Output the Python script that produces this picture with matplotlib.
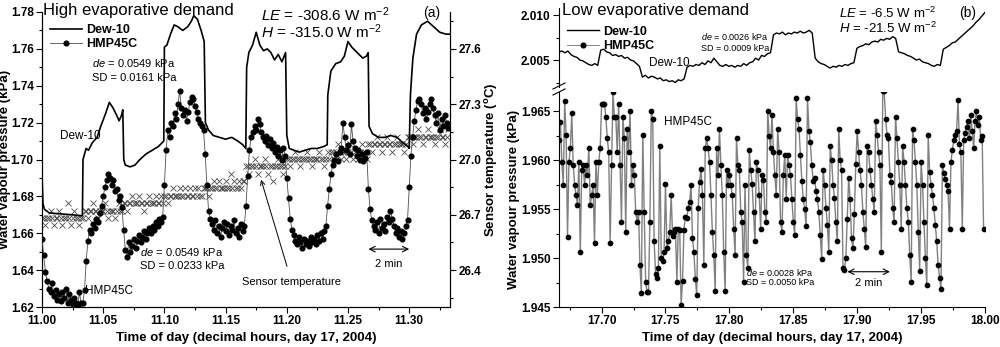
import numpy as np
import matplotlib.pyplot as plt
from matplotlib.ticker import MultipleLocator, FormatStrFormatter
from matplotlib.lines import Line2D

plt.rcParams['font.family'] = ['Liberation Sans', 'DejaVu Sans']
plt.rcParams['mathtext.fontset'] = 'custom'
plt.rcParams['mathtext.rm'] = 'Liberation Sans'
plt.rcParams['mathtext.it'] = 'Liberation Sans:italic'
plt.rcParams['mathtext.bf'] = 'Liberation Sans:bold'

# ---------------- panel (a): high evaporative demand ----------------
dew_a_t = [11.000, 11.0008, 11.002, 11.006, 11.015, 11.025, 11.033, 11.0335, 11.036, 11.038,
           11.041, 11.045, 11.048, 11.052, 11.055, 11.058, 11.061, 11.063, 11.065, 11.066,
           11.0668, 11.068, 11.072, 11.076, 11.080, 11.085, 11.090, 11.095, 11.0995, 11.1000,
           11.102, 11.105, 11.108, 11.111, 11.115, 11.119, 11.122, 11.124, 11.127, 11.130,
           11.1325, 11.1335, 11.136, 11.140, 11.145, 11.150, 11.155, 11.160, 11.164, 11.1665,
           11.1672, 11.169, 11.172, 11.175, 11.178, 11.181, 11.184, 11.187, 11.190, 11.193,
           11.196, 11.199, 11.2000, 11.202, 11.206, 11.210, 11.215, 11.220, 11.225, 11.230,
           11.233, 11.2335, 11.236, 11.240, 11.244, 11.247, 11.250, 11.253, 11.256, 11.259,
           11.262, 11.265, 11.2665, 11.2672, 11.270, 11.275, 11.280, 11.285, 11.290, 11.295,
           11.299, 11.3000, 11.301, 11.303, 11.306, 11.310, 11.315, 11.320, 11.325, 11.330,
           11.333]
dew_a = [1.692, 1.676, 1.673, 1.671, 1.6705, 1.670, 1.6695, 1.700, 1.706, 1.705,
         1.709, 1.712, 1.718, 1.725, 1.731, 1.728, 1.724, 1.721, 1.724, 1.727,
         1.700, 1.697, 1.696, 1.697, 1.700, 1.703, 1.705, 1.707, 1.710, 1.761,
         1.762, 1.768, 1.773, 1.772, 1.770, 1.772, 1.775, 1.778, 1.776, 1.770,
         1.764, 1.720, 1.716, 1.713, 1.712, 1.711, 1.712, 1.710, 1.708, 1.706,
         1.750, 1.758, 1.762, 1.769, 1.762, 1.759, 1.760, 1.758, 1.754, 1.757,
         1.753, 1.758, 1.713, 1.706, 1.705, 1.704, 1.705, 1.706, 1.706, 1.707,
         1.708, 1.735, 1.748, 1.752, 1.753, 1.756, 1.764, 1.761, 1.759, 1.757,
         1.755, 1.756, 1.758, 1.718, 1.714, 1.712, 1.712, 1.713, 1.712, 1.709,
         1.707, 1.706, 1.735, 1.755, 1.768, 1.773, 1.775, 1.772, 1.769, 1.768,
         1.768]

# HMP45C, one reading every 5 s (kPa)
hmp_a = [
    1.657, 1.648, 1.639, 1.634, 1.630, 1.628, 1.633, 1.626, 1.629, 1.624, 1.627, 1.623,
    1.628, 1.625, 1.630, 1.622, 1.627, 1.624, 1.621, 1.625, 1.622, 1.620, 1.628, 1.622,
    1.622, 1.629, 1.645, 1.656, 1.662, 1.660, 1.665, 1.663, 1.668, 1.666, 1.671, 1.675,
    1.680, 1.685, 1.689, 1.692, 1.690, 1.686, 1.689, 1.683, 1.684, 1.678, 1.680, 1.674,
    1.662, 1.651, 1.647, 1.655, 1.650, 1.653, 1.657, 1.652, 1.656, 1.659, 1.655, 1.658,
    1.661, 1.657, 1.660, 1.663, 1.660, 1.664, 1.662, 1.666, 1.664, 1.668, 1.666, 1.669,
    1.686, 1.705, 1.716, 1.712, 1.720, 1.718, 1.725, 1.722, 1.730, 1.737, 1.728, 1.724,
    1.727, 1.721, 1.726, 1.731, 1.734, 1.733, 1.729, 1.726, 1.722, 1.720, 1.718, 1.716,
    1.703, 1.686, 1.672, 1.668, 1.665, 1.662, 1.667, 1.660, 1.664, 1.658, 1.663, 1.666,
    1.661, 1.665, 1.659, 1.664, 1.662, 1.667, 1.660, 1.663, 1.658, 1.665, 1.661, 1.664,
    1.675, 1.691, 1.705, 1.712, 1.715, 1.718, 1.716, 1.722, 1.719, 1.715, 1.712, 1.710,
    1.713, 1.708, 1.711, 1.706, 1.709, 1.704, 1.707, 1.702, 1.705, 1.700, 1.706, 1.702,
    1.690, 1.679, 1.668, 1.662, 1.659, 1.656, 1.654, 1.658, 1.655, 1.652, 1.657, 1.654,
    1.656, 1.653, 1.658, 1.655, 1.657, 1.654, 1.659, 1.656, 1.660, 1.657, 1.661, 1.664,
    1.675, 1.684, 1.692, 1.697, 1.700, 1.703, 1.699, 1.704, 1.706, 1.720, 1.712, 1.705,
    1.708, 1.703, 1.719, 1.710, 1.706, 1.702, 1.705, 1.700, 1.703, 1.699, 1.701, 1.704,
    1.684, 1.673, 1.667, 1.664, 1.662, 1.666, 1.660, 1.668, 1.663, 1.665, 1.661, 1.669,
    1.666, 1.672, 1.668, 1.664, 1.660, 1.663, 1.658, 1.661, 1.657, 1.660, 1.664, 1.667,
    1.685, 1.702, 1.712, 1.721, 1.727, 1.732, 1.733, 1.730, 1.725, 1.728, 1.722, 1.726,
    1.730, 1.733, 1.728, 1.724, 1.720, 1.725, 1.716, 1.722, 1.718, 1.724, 1.720, 1.717]

# sensor temperature, in steps of the 0.04 degC resolution above 26.643 degC
temp_step = [
    1, 1, 0, 1, 1, 2, 1, 0, 1, 1, 2, 1, 0, 1, 1, 3, 1, 0, 1, 2, 1, 1, 0, 1,
    1, 2, 2, 1, 2, 2, 3, 2, 2, 1, 2, 2, 2, 3, 2, 1, 2, 2, 2, 1, 2, 3, 2, 2,
    3, 3, 2, 3, 3, 4, 3, 3, 3, 4, 3, 3, 2, 3, 3, 4, 3, 3, 3, 4, 3, 3, 4, 3,
    4, 4, 3, 4, 4, 5, 4, 4, 4, 5, 4, 4, 5, 4, 4, 5, 4, 4, 5, 4, 5, 4, 4, 5,
    5, 5, 4, 5, 5, 6, 5, 5, 6, 5, 5, 5, 6, 5, 5, 7, 5, 6, 5, 5, 6, 5, 6, 6,
    8, 8, 7, 8, 8, 9, 8, 7, 8, 8, 8, 9, 8, 7, 8, 8, 6, 8, 8, 9, 8, 8, 7, 8,
    9, 9, 8, 9, 9, 10, 9, 9, 8, 9, 9, 9, 10, 9, 9, 8, 9, 9, 9, 10, 9, 9, 8, 9,
    10, 9, 10, 10, 9, 10, 11, 10, 9, 10, 10, 9, 10, 11, 10, 9, 10, 10, 9, 10, 11, 10, 10, 9,
    11, 11, 10, 11, 11, 12, 11, 11, 10, 11, 11, 12, 11, 11, 10, 11, 11, 12, 11, 11, 11, 10, 11, 12,
    12, 12, 11, 12, 12, 13, 12, 12, 11, 12, 12, 13, 12, 12, 12, 11, 12, 12, 13, 12, 12, 11, 12, 13]

# ---------------- panel (b): low evaporative demand ----------------
dew_b = [
    2.0059, 2.0060, 2.0058, 2.0060, 2.0056, 2.0054, 2.0053, 2.0050, 2.0049, 2.0047, 2.0045, 2.0044,
    2.0046, 2.0044, 2.0061, 2.0062, 2.0059, 2.0058, 2.0055, 2.0056, 2.0054, 2.0055, 2.0052, 2.0053,
    2.0050, 2.0049, 2.0046, 2.0043, 2.0031, 2.0033, 2.0030, 2.0032, 2.0031, 2.0029, 2.0030, 2.0027,
    2.0028, 2.0026, 2.0027, 2.0025, 2.0028, 2.0027, 2.0029, 2.0042, 2.0044, 2.0043, 2.0045, 2.0044,
    2.0047, 2.0045, 2.0049, 2.0047, 2.0052, 2.0048, 2.0044, 2.0043, 2.0045, 2.0043, 2.0044, 2.0042,
    2.0044, 2.0043, 2.0046, 2.0044, 2.0047, 2.0048, 2.0052, 2.0050, 2.0055, 2.0054, 2.0057, 2.0058,
    2.0078, 2.0080, 2.0079, 2.0081, 2.0078, 2.0080, 2.0079, 2.0081, 2.0080, 2.0082, 2.0080, 2.0081,
    2.0083, 2.0080, 2.0052, 2.0048, 2.0046, 2.0045, 2.0043, 2.0041, 2.0043, 2.0042, 2.0044, 2.0043,
    2.0045, 2.0044, 2.0046, 2.0047, 2.0063, 2.0065, 2.0066, 2.0068, 2.0067, 2.0070, 2.0071, 2.0070,
    2.0073, 2.0072, 2.0074, 2.0073, 2.0076, 2.0074, 2.0059, 2.0058, 2.0057, 2.0055, 2.0054, 2.0052,
    2.0050, 2.0051, 2.0048, 2.0047, 2.0046, 2.0044, 2.0043, 2.0045, 2.0044, 2.0062, 2.0064, 2.0066,
    2.0069, 2.0070, 2.0073, 2.0076, 2.0079, 2.0082, 2.0085, 2.0088, 2.0092, 2.0095, 2.0099, 2.0103]

# HMP45C, one reading every 4 s, in 0.0001 kPa above 1.9 kPa
hmp_b_raw = [
    620, 639, 598, 575, 660, 626, 521, 598, 612, 648, 595, 575, 564, 554, 598,
    506, 590, 595, 575, 595, 585, 612, 554, 564, 575, 515, 598, 564, 598, 612,
    657, 657, 657, 644, 622, 608, 515, 595, 669, 644, 644, 608, 657, 595, 537,
    644, 622, 527, 632, 608, 650, 575, 595, 585, 547, 537, 547, 493, 464, 626,
    547, 476, 465, 465, 537, 650, 642, 517, 484, 480, 490, 614, 500, 497, 506,
    576, 510, 517, 527, 564, 522, 527, 530, 476, 530, 529, 452, 477, 529, 542,
    541, 551, 557, 575, 520, 506, 479, 462, 551, 578, 591, 564, 493, 612, 622,
    612, 598, 564, 527, 503, 466, 612, 585, 632, 595, 564, 506, 466, 590, 575,
    585, 575, 564, 530, 503, 622, 595, 590, 547, 537, 476, 575, 503, 490, 610,
    590, 576, 547, 517, 598, 590, 564, 530, 585, 580, 547, 537, 650, 625, 612,
    646, 608, 585, 564, 632, 608, 537, 527, 585, 605, 560, 605, 595, 585, 560,
    537, 523, 663, 642, 632, 605, 579, 560, 550, 533, 663, 630, 618, 595, 579,
    582, 568, 560, 547, 523, 499, 590, 575, 551, 534, 506, 614, 600, 575, 561,
    537, 517, 632, 600, 590, 490, 488, 500, 540, 582, 560, 520, 510, 545, 596,
    630, 608, 590, 575, 547, 530, 511, 614, 608, 590, 575, 560, 547, 640, 626,
    608, 595, 506, 670, 670, 642, 626, 622, 585, 578, 551, 537, 644, 622, 598,
    575, 530, 614, 598, 575, 551, 537, 503, 476, 632, 620, 598, 574, 527, 487,
    598, 575, 537, 500, 472, 626, 588, 575, 564, 551, 534, 517, 493, 480, 468,
    595, 587, 581, 575, 568, 530, 598, 610, 620, 626, 630, 661, 616, 608, 530,
    620, 628, 634, 640, 622, 646, 630, 612, 640, 650, 636, 644, 620, 625, 530]

hmp_a_t = 11.0 + np.arange(len(hmp_a)) * 5 / 3600
temp_a = 26.643 + 0.04 * np.array(temp_step)
start_b = 17 + 40 / 60
dew_b_t = np.linspace(start_b, 18.0, len(dew_b))
hmp_b_t = start_b + np.arange(len(hmp_b_raw)) * 4 / 3600
hmp_b = 1.9 + np.array(hmp_b_raw) / 1e4

W, H = 1000, 347
fig = plt.figure(figsize=(W / 100, H / 100), dpi=100)


def fbox(x0, y0, x1, y1):
    return [x0 / W, 1 - y1 / H, (x1 - x0) / W, (y1 - y0) / H]


def style(ax):
    ax.tick_params(which='both', direction='out', width=0.8, labelsize=8.5, pad=2)
    ax.tick_params(which='major', length=4)
    ax.tick_params(which='minor', length=2.5)
    for lab in ax.get_xticklabels() + ax.get_yticklabels():
        lab.set_fontweight('bold')
    for s in ax.spines.values():
        s.set_linewidth(0.8)
    ax.spines['top'].set_visible(False)


lab_kw = dict(fontsize=9.5, fontweight='bold')

# ---- panel (a)
ax1 = fig.add_axes(fbox(42, 12, 450, 307))
ax1.plot(dew_a_t, dew_a, color='black', lw=1.2, label='Dew-10', zorder=3)
ax1.plot(hmp_a_t, hmp_a, color='0.3', lw=0.6, marker='o', ms=3.4,
         mfc='black', mec='black', label='HMP45C', zorder=4)
ax1.set_xlim(11.0, 11.0 + 1 / 3)
ax1.set_ylim(1.62, 1.78)
ax1.xaxis.set_major_locator(MultipleLocator(0.05))
ax1.xaxis.set_minor_locator(MultipleLocator(0.025))
ax1.xaxis.set_major_formatter(FormatStrFormatter('%.2f'))
ax1.yaxis.set_major_locator(MultipleLocator(0.02))
ax1.yaxis.set_minor_locator(MultipleLocator(0.01))
ax1.yaxis.set_major_formatter(FormatStrFormatter('%.2f'))
ax1.set_xlabel('Time of day (decimal hours, day 17, 2004)', labelpad=3, **lab_kw)
ax1.set_ylabel('Water vapour pressure (kPa)', labelpad=0, **lab_kw)

ax1t = ax1.twinx()
ax1t.plot(hmp_a_t, temp_a, ls='none', marker='x', ms=4, mew=0.6, color='0.3', zorder=2)
ax1t.set_ylim(26.2, 27.8)
ax1t.yaxis.set_major_locator(MultipleLocator(0.3))
ax1t.yaxis.set_minor_locator(MultipleLocator(0.15))
ax1t.yaxis.set_major_formatter(FormatStrFormatter('%.1f'))
ax1t.set_ylabel('Sensor temperature ($^{\\mathbf{o}}$C)', labelpad=1, **lab_kw)
style(ax1)
style(ax1t)
ax1.set_zorder(ax1t.get_zorder() + 1)
ax1.patch.set_visible(False)

ax1.legend(loc='upper left', bbox_to_anchor=(0.0, 0.985), frameon=False,
           prop={'weight': 'bold', 'size': 9}, handlelength=2.6,
           handletextpad=0.3, labelspacing=0.2, borderaxespad=0.2)

fig.text(43 / W, 1 - 11 / H, 'High evaporative demand', fontsize=12, va='center', ha='left')
ax1.text(11.179, 1.7784, '$LE$ = -308.6 W m$^{-2}$', fontsize=11, va='center')
ax1.text(11.179, 1.7692, '$H$ = -315.0 W m$^{-2}$', fontsize=11, va='center')
ax1.text(11.311, 1.7795, '(a)', fontsize=10, va='center')
ax1.text(11.0407, 1.7524, '$de$ = 0.0549 kPa', fontsize=8, va='center')
ax1.text(11.0407, 1.7443, 'SD = 0.0161 kPa', fontsize=8, va='center')
ax1.text(11.0146, 1.7130, 'Dew-10', fontsize=8.5, va='center')
ax1.text(11.0797, 1.6497, '$de$ = 0.0549 kPa', fontsize=8, va='center')
ax1.text(11.0797, 1.6422, 'SD = 0.0233 kPa', fontsize=8, va='center')
ax1.text(11.0350, 1.6286, 'HMP45C', fontsize=8.5, va='center')
ax1.annotate('Sensor temperature', xy=(11.179, 1.689), xytext=(11.204, 1.6335),
             fontsize=8, ha='center', va='center',
             arrowprops=dict(arrowstyle='->', lw=0.7, color='black', shrinkA=6, shrinkB=0))
ax1.annotate('', xy=(11.2667, 1.6514), xytext=(11.3, 1.6514),
             arrowprops=dict(arrowstyle='<->', lw=0.8, color='black', shrinkA=0, shrinkB=0))
ax1.text(11.2833, 1.6432, '2 min', fontsize=8, ha='center', va='center')

# ---- panel (b), broken y axis
axb = fig.add_axes(fbox(559, 92, 985, 307))
axt = fig.add_axes(fbox(559, 8, 985, 87), sharex=axb)
for ax in (axb, axt):
    ax.spines['right'].set_visible(False)
axt.spines['bottom'].set_visible(False)

axt.plot(dew_b_t, dew_b, color='black', lw=1.0, label='Dew-10')
axt.plot([], [], color='0.45', lw=0.6, marker='o', ms=3.4, mfc='black', mec='black', label='HMP45C')
axb.plot(hmp_b_t, hmp_b, color='0.5', lw=1.0, marker='o', ms=3.1, mfc='black', mec='black')

axb.set_xlim(start_b, 18.0)
axb.set_ylim(1.945, 1.96694)
axt.set_ylim(2.0020, 2.01078)
axb.xaxis.set_major_locator(MultipleLocator(0.05))
axb.xaxis.set_minor_locator(MultipleLocator(0.025))
axb.xaxis.set_major_formatter(FormatStrFormatter('%.2f'))
for ax in (axb, axt):
    ax.yaxis.set_major_locator(MultipleLocator(0.005))
    ax.yaxis.set_minor_locator(MultipleLocator(0.0025))
    ax.yaxis.set_major_formatter(FormatStrFormatter('%.3f'))
axt.tick_params(axis='x', which='both', bottom=False, labelbottom=False)
axb.set_xlabel('Time of day (decimal hours, day 17, 2004)', labelpad=3, **lab_kw)
axb.set_ylabel('Water vapour pressure (kPa)', labelpad=1, **lab_kw)
style(axb)
style(axt)
axt.patch.set_visible(False)
axb.patch.set_visible(False)

# break marks on the left spine
for yy in (86, 92):
    fig.add_artist(Line2D([553 / W, 565 / W], [1 - (yy + 3) / H, 1 - (yy - 3) / H],
                          transform=fig.transFigure, color='black', lw=0.8))

axt.legend(loc='upper left', bbox_to_anchor=(0.0, 0.87), frameon=False,
           prop={'weight': 'bold', 'size': 9}, handlelength=2.6,
           handletextpad=0.3, labelspacing=0.2, borderaxespad=0.2)

fig.text(562 / W, 1 - 11 / H, 'Low evaporative demand', fontsize=12, va='center', ha='left')
axt.text(17.7775, 2.00756, '$de$ = 0.0026 kPa', fontsize=6.5, va='center')
axt.text(17.7775, 2.00633, 'SD = 0.0009 kPa', fontsize=6.5, va='center')
axt.text(17.886, 2.0102, '$LE$ = -6.5 W m$^{-2}$', fontsize=9.5, va='center')
axt.text(17.886, 2.00856, '$H$ = -21.5 W m$^{-2}$', fontsize=9.5, va='center')
axt.text(17.980, 2.0102, '(b)', fontsize=10, va='center')
axt.text(17.737, 2.00467, 'Dew-10', fontsize=8.5, va='center')
axb.text(17.749, 1.96388, 'HMP45C', fontsize=8.5, va='center')
axb.text(17.813, 1.94857, '$de$ = 0.0028 kPa', fontsize=6.5, va='center')
axb.text(17.813, 1.94745, 'SD = 0.0050 kPa', fontsize=6.5, va='center')
axb.annotate('', xy=(17.8923, 1.9486), xytext=(17.9256, 1.9486),
             arrowprops=dict(arrowstyle='<->', lw=0.8, color='black', shrinkA=0, shrinkB=0))
axb.text(17.909, 1.9474, '2 min', fontsize=8, ha='center', va='center')

fig.savefig('out.png', dpi=100)
